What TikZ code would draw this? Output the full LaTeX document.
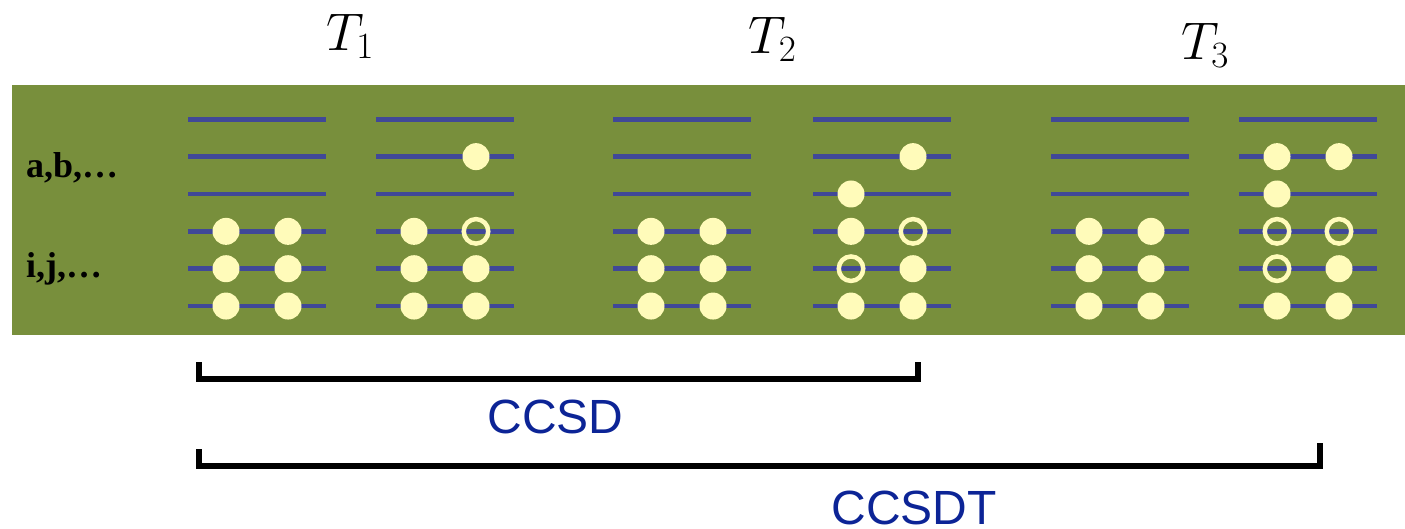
\RequirePackage{fix-cm}
\documentclass[tikz,border=0pt]{standalone}
\usepackage{fontspec}
\setmainfont{Liberation Serif}
\newfontfamily\methodfont{Liberation Sans}
\definecolor{bandgreen}{RGB}{120,143,60}
\definecolor{orbblue}{RGB}{64,72,152}
\definecolor{dotyellow}{RGB}{255,251,186}
\definecolor{methodblue}{RGB}{12,36,150}

\begin{document}
\begin{tikzpicture}[
    x=1pt, y=-1pt,
    orbital/.style={draw=orbblue, line width=4.7pt},
    occ/.style={circle, fill=dotyellow, minimum size=27pt, inner sep=0pt},
    hole/.style={circle, draw=dotyellow, line width=4.5pt, minimum size=24.5pt, inner sep=0pt},
    bracket/.style={draw=black, line width=6pt, line join=miter},
    method/.style={font=\methodfont\fontsize{48}{56}\selectfont, text=methodblue, anchor=base, inner sep=0pt},
    amp/.style={font=\fontsize{53}{60}\selectfont, anchor=base, inner sep=0pt},
    index/.style={font=\bfseries\fontsize{36}{40}\selectfont, anchor=base west, inner sep=0pt}
]
  \useasboundingbox (0,0) rectangle (1405,529);
  \fill[bandgreen] (12,85) rectangle (1405,335);

  % orbital levels, six per determinant
  \foreach \gx in {188,376,613,813,1051,1239}
    \foreach \r in {1,...,6}
      \draw[orbital] (\gx, 81.95+37.35*\r) -- ++(138,0);

  % reference determinants
  \foreach \gx in {188,613,1051}
    \foreach \r in {4,5,6} {
      \node[occ] (ref\gx a\r) at (\gx+38, 81.95+37.35*\r) {};
      \node[occ] (ref\gx b\r) at (\gx+100, 81.95+37.35*\r) {};
    }

  % singles
  \foreach \x/\r/\s [count=\i] in {476/2/occ, 414/4/occ, 476/4/hole, 414/5/occ,
                                   476/5/occ, 414/6/occ, 476/6/occ}
    \node[\s] (s\i) at (\x, 81.95+37.35*\r) {};

  % doubles
  \foreach \x/\r/\s [count=\i] in {913/2/occ, 851/3/occ, 851/4/occ, 913/4/hole,
                                   851/5/hole, 913/5/occ, 851/6/occ, 913/6/occ}
    \node[\s] (d\i) at (\x, 81.95+37.35*\r) {};

  % triples
  \foreach \x/\r/\s [count=\i] in {1277/2/occ, 1339/2/occ, 1277/3/occ, 1277/4/hole,
                                   1339/4/hole, 1277/5/hole, 1339/5/occ, 1277/6/occ, 1339/6/occ}
    \node[\s] (t\i) at (\x, 81.95+37.35*\r) {};

  % amplitudes
  \node[amp] (T1) at (350,50.7) {$T_1$};
  \node[amp] (T2) at (772.5,53.3) {$T_2$};
  \node[amp] (T3) at (1205,60) {$T_3$};

  % index labels
  \node[index] (virtlab) at (26,177.7) {a,b,…};
  \node[index] (occlab) at (26,277.7) {i,j,…};

  % method brackets
  \coordinate (ccsdL) at (199,378.5);
  \coordinate (ccsdR) at (918,378.5);
  \coordinate (ccsdtL) at (199,465.5);
  \coordinate (ccsdtR) at (1319.5,465.5);
  \draw[bracket] (ccsdL) ++(0,-16.5) -- (ccsdL) -- (ccsdR) -- ++(0,-16.5);
  \draw[bracket] (ccsdtL) ++(0,-16.5) -- (ccsdtL) -- (ccsdtR) -- ++(0,-23);

  \node[method] (ccsd) at (555.5,433) {CCSD};
  \node[method] (ccsdt) at (914,524) {CCSDT};
\end{tikzpicture}
\end{document}
